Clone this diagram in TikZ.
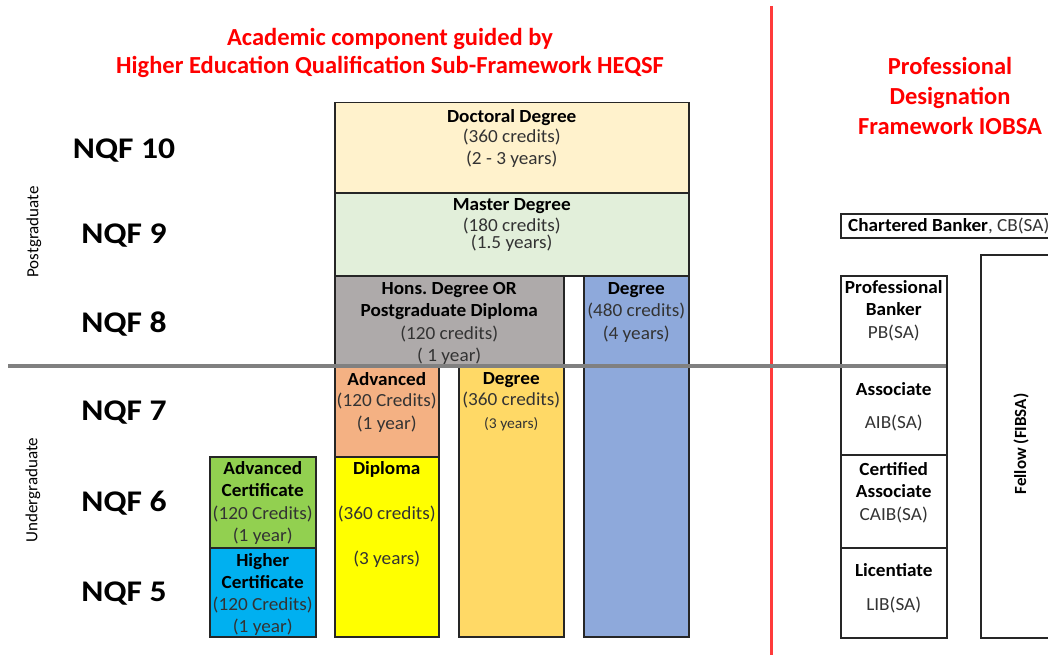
\documentclass[tikz,border=0pt]{standalone}
\usepackage{fontspec}
\setmainfont{Carlito}
\usetikzlibrary{calc}
\frenchspacing

\definecolor{docfill}{HTML}{FFF2CC}
\definecolor{masfill}{HTML}{E2EFDA}
\definecolor{honsfill}{HTML}{AEAAAA}
\definecolor{bluefill}{HTML}{8EA9DB}
\definecolor{advfill}{HTML}{F4B183}
\definecolor{dipfill}{HTML}{FFFF00}
\definecolor{degfill}{HTML}{FFD966}
\definecolor{acfill}{HTML}{92D050}
\definecolor{hcfill}{HTML}{00B0F0}
\definecolor{edge}{HTML}{262626}
\definecolor{bodytext}{HTML}{333333}
\definecolor{headred}{HTML}{FF0000}
\definecolor{divider}{HTML}{808080}
\definecolor{redrule}{HTML}{FF3B3B}

\newfontfamily\widefont[FakeStretch=1.04]{Carlito}
\newfontfamily\levelfont[FakeStretch=1.12]{Carlito}

\tikzset{
  cell/.style={draw=edge, line width=1.5pt, rectangle, inner sep=0pt, anchor=north west},
  celltext/.style={font=\widefont\fontsize{18.5}{22.5}\selectfont, text=bodytext, align=center, inner sep=0pt, anchor=north},
  level/.style={font=\levelfont\fontsize{30}{30}\selectfont\bfseries, text=black, inner sep=0pt},
  heading/.style={font=\fontsize{24.5}{30}\selectfont\bfseries, text=headred, align=center, inner sep=0pt},
  sidelabel/.style={font=\fontsize{17}{17}\selectfont, text=black, rotate=90, inner sep=0pt},
}

\begin{document}
\begin{tikzpicture}[x=1pt, y=-1pt]
\useasboundingbox (0,0) rectangle (1048,655);
\begin{scope}
\clip (0,0) rectangle (1048,655);

% headings
\node[heading, anchor=base] (h1) at (390,46) {Academic component guided by};
\node[heading, anchor=base] (h2) at (390,74) {Higher Education Qualification Sub-Framework HEQSF};
\node[heading, anchor=north] (h3) at (950,57) {Professional\\Designation\\Framework IOBSA};

% NQF levels
\node[level] (n10) at (124,151) {NQF 10};
\node[level] (n9)  at (124,236) {NQF 9};
\node[level] (n8)  at (124,324) {NQF 8};
\node[level] (n7)  at (124,413) {NQF 7};
\node[level] (n6)  at (124,503) {NQF 6};
\node[level] (n5)  at (124,594) {NQF 5};

\node[sidelabel] (pg) at (34,232) {Postgraduate};
\node[sidelabel] (ug) at (33,490) {Undergraduate};

% academic qualifications
\node[cell, fill=docfill, minimum width=354pt, minimum height=90pt] (doc) at (334,102) {};
\node[cell, fill=masfill, minimum width=354pt, minimum height=83pt] (mas) at (334,192) {};
\node[cell, fill=honsfill, minimum width=229pt, minimum height=91pt] (hons) at (334,275) {};
\node[cell, fill=bluefill, minimum width=105pt, minimum height=361pt] (bdeg) at (583,275) {};
\node[cell, fill=advfill, minimum width=104pt, minimum height=90pt] (adv) at (334,366) {};
\node[cell, fill=dipfill, minimum width=104pt, minimum height=180pt] (dip) at (334,456) {};
\node[cell, fill=degfill, minimum width=105pt, minimum height=270pt] (deg) at (458,366) {};
\node[cell, fill=acfill, minimum width=106pt, minimum height=91pt] (ac) at (209,456) {};
\node[cell, fill=hcfill, minimum width=106pt, minimum height=89pt] (hc) at (209,547) {};

\node[celltext] at ($(doc.north)+(0,7)$) {\textbf{\color{black}Doctoral Degree}\\[-2.5pt](360 credits)\\[-0.5pt](2 - 3 years)};
\node[celltext] at ($(mas.north)+(0,6)$) {\textbf{\color{black}Master Degree}\\[-1.5pt](180 credits)\\[-5.5pt](1.5 years)};
\node[celltext] at ($(hons.north)+(0,7)$) {\textbf{\color{black}Hons. Degree OR}\\\textbf{\color{black}Postgraduate Diploma}\\(120 credits)\\( 1 year)};
\node[celltext] at ($(bdeg.north)+(0,7)$) {\textbf{\color{black}Degree}\\(480 credits)\\(4 years)};
\node[celltext] at ($(adv.north)+(0,6)$) {\textbf{\color{black}Advanced}\\[-1pt](120 Credits)\\(1 year)};
\node[celltext] at ($(deg.north)+(0,6)$) {\textbf{\color{black}Degree}\\[-1pt](360 credits)\\[0pt]{\fontsize{15}{15}\selectfont(3 years)}};
\node[celltext] at ($(dip.north)+(0,5)$) {\textbf{\color{black}Diploma}\\[23pt](360 credits)\\[22.5pt](3 years)};
\node[celltext] at ($(ac.north)+(0,5)$) {\textbf{\color{black}Advanced}\\\textbf{\color{black}Certificate}\\(120 Credits)\\(1 year)};
\node[celltext] at ($(hc.north)+(0,6)$) {\textbf{\color{black}Higher}\\[-0.5pt]\textbf{\color{black}Certificate}\\[-0.5pt](120 Credits)\\[-0.5pt](1 year)};

% professional designations
\node[cell, minimum width=260pt, minimum height=24pt] (cb) at (840,213) {};
\node[celltext, anchor=west, text=bodytext] at ($(cb.west)+(8,0)$) {\textbf{\color{black}Chartered Banker}, CB(SA)};
\node[cell, minimum width=106pt, minimum height=91pt] (pb) at (840,275) {};
\node[cell, minimum width=106pt, minimum height=88pt] (aib) at (840,366) {};
\node[cell, minimum width=106pt, minimum height=93pt] (caib) at (840,454) {};
\node[cell, minimum width=106pt, minimum height=90pt] (lib) at (840,547) {};
\node[cell, minimum width=140pt, minimum height=383pt] (fib) at (980,254) {};

\node[celltext] at ($(pb.north)+(0,5)$) {\textbf{\color{black}Professional}\\\textbf{\color{black}Banker}\\PB(SA)};
\node[celltext] at ($(aib.north)+(0,16)$) {\textbf{\color{black}Associate}\\[10.5pt]AIB(SA)};
\node[celltext] at ($(caib.north)+(0,8)$) {\textbf{\color{black}Certified}\\\textbf{\color{black}Associate}\\CAIB(SA)};
\node[celltext] at ($(lib.north)+(0,16)$) {\textbf{\color{black}Licentiate}\\[11.5pt]LIB(SA)};
\node[sidelabel, font=\fontsize{17}{17}\selectfont\bfseries] (fel) at (1021,444) {Fellow (FIBSA)};

% framework separator and level divider
\coordinate (rtop) at (771,6);
\coordinate (rbot) at (771,655);
\draw[redrule, line width=3pt] (rtop) -- (rbot);
\coordinate (dl) at (8,366);
\coordinate (dr) at (946,366);
\draw[divider, line width=4.5pt] (dl) -- (dr);
\end{scope}
\end{tikzpicture}
\end{document}
